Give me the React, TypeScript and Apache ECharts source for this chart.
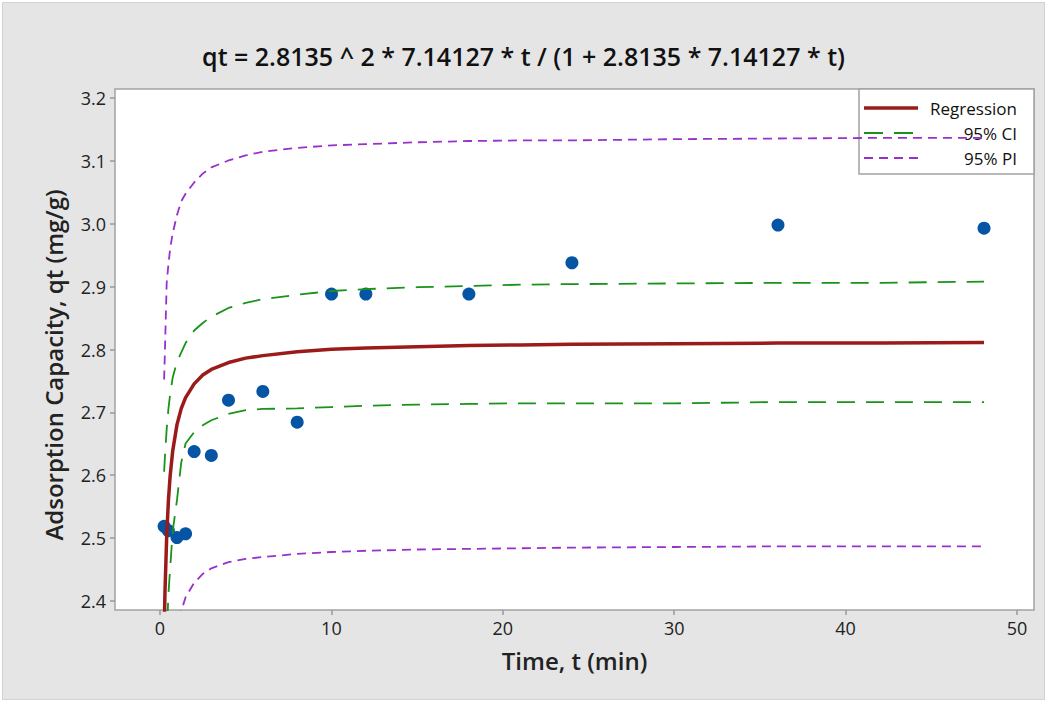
import React, { useEffect, useRef } from "react";
import * as echarts from "echarts";

// Sample times (min) for the fitted curves
const tValues = [0.25, 0.3, 0.4, 0.5, 0.6, 0.75, 1, 1.25, 1.5, 2, 2.5, 3, 4, 5, 6, 8, 10, 12, 15, 18, 21, 24, 30, 36, 42, 48];
const regression = [2.346, 2.413, 2.502, 2.559, 2.598, 2.638, 2.68, 2.706, 2.723, 2.745, 2.759, 2.768, 2.779, 2.786, 2.79, 2.796, 2.8, 2.802, 2.804, 2.806, 2.807, 2.808, 2.809, 2.81, 2.81, 2.811];
const ciUpper = [2.605, 2.63, 2.673, 2.705, 2.728, 2.755, 2.78, 2.795, 2.81, 2.83, 2.842, 2.852, 2.866, 2.874, 2.88, 2.887, 2.893, 2.896, 2.899, 2.901, 2.903, 2.904, 2.905, 2.906, 2.906, 2.908];
const ciLower = [2.09, 2.18, 2.34, 2.41, 2.45, 2.51, 2.56, 2.62, 2.65, 2.668, 2.679, 2.687, 2.697, 2.703, 2.705, 2.706, 2.708, 2.71, 2.712, 2.713, 2.714, 2.714, 2.714, 2.716, 2.716, 2.716];
const piUpper = [2.752, 2.8, 2.906, 2.935, 2.96, 2.985, 3.014, 3.036, 3.048, 3.066, 3.08, 3.09, 3.101, 3.109, 3.115, 3.121, 3.125, 3.127, 3.13, 3.132, 3.133, 3.133, 3.135, 3.136, 3.137, 3.137];
const piLower = [1.94, 2.03, 2.12, 2.18, 2.23, 2.29, 2.348, 2.383, 2.405, 2.428, 2.442, 2.451, 2.461, 2.466, 2.469, 2.474, 2.477, 2.479, 2.481, 2.482, 2.483, 2.484, 2.485, 2.486, 2.486, 2.486];

// Observed data
const obsTime = [0.25, 0.5, 1, 1.5, 2, 3, 4, 6, 8, 10, 12, 18, 24, 36, 48];
const obsQt = [2.518, 2.511, 2.5, 2.506, 2.637, 2.631, 2.719, 2.733, 2.684, 2.888, 2.888, 2.888, 2.938, 2.998, 2.993];

const titleText = "qt = 2.8135 ^ 2 * 7.14127 * t / (1 + 2.8135 * 7.14127 * t)";
const xName = "Time, t (min)";
const yName = "Adsorption Capacity, qt (mg/g)";
const legendNames = ["Regression", "95% CI", "95% PI"];

const FONT = "'Open Sans', 'Noto Sans', sans-serif";
const RED = "#9b1b1b";
const GREEN = "#1a931a";
const PURPLE = "#9a30cc";
const BLUE = "#0655a5";
const FRAME = "#a3a3a3";

const pair = (ys: number[]) => tValues.map((t, i) => [t, ys[i]]);

export default function App() {
  const ref = useRef<HTMLDivElement>(null);
  useEffect(() => {
    if (!ref.current) return;
    const chart = echarts.init(ref.current, undefined, { renderer: "svg" });
    const tickStyle = { color: "#222", fontSize: 18, fontFamily: FONT };
    chart.setOption({
      animation: false,
      backgroundColor: "transparent",
      title: {
        text: titleText,
        left: "center",
        top: 38,
        textStyle: { fontFamily: FONT, fontSize: 25, fontWeight: 600, color: "#111" },
      },
      grid: [
        { left: 115, right: 13, top: 89, bottom: 92, show: true, backgroundColor: "#fff", borderColor: FRAME, borderWidth: 1.5 },
        { left: 160, right: 30, top: 98, bottom: 101, show: false },
      ],
      xAxis: [
        {
          type: "value", gridIndex: 0, min: -2.61, max: 50.91,
          axisLine: { show: false }, axisTick: { show: false }, axisLabel: { show: false }, splitLine: { show: false },
          name: xName, nameLocation: "middle", nameGap: 38,
          nameTextStyle: { fontFamily: FONT, fontSize: 24, fontWeight: 600, color: "#222" },
        },
        {
          type: "value", gridIndex: 1, min: 0, max: 50, interval: 10, offset: 9,
          axisLine: { show: false, onZero: false }, splitLine: { show: false },
          axisTick: { show: true, length: 5, lineStyle: { color: "#999", width: 1.5 } },
          axisLabel: { ...tickStyle, margin: 9 },
        },
      ],
      yAxis: [
        {
          type: "value", gridIndex: 0, min: 2.3846, max: 3.2149,
          axisLine: { show: false }, axisTick: { show: false }, axisLabel: { show: false }, splitLine: { show: false },
        },
        {
          type: "value", gridIndex: 1, min: 2.4, max: 3.2, interval: 0.1, offset: 45,
          axisLine: { show: false, onZero: false }, splitLine: { show: false },
          axisTick: { show: true, length: 5, lineStyle: { color: "#999", width: 1.5 } },
          axisLabel: { ...tickStyle, margin: 9, formatter: (v: number) => v.toFixed(1) },
        },
      ],
      series: [
        { name: "PI upper", type: "line", xAxisIndex: 0, yAxisIndex: 0, data: pair(piUpper), showSymbol: false, symbol: "none", lineStyle: { color: PURPLE, width: 1.8, type: [9, 6] } },
        { name: "PI lower", type: "line", xAxisIndex: 0, yAxisIndex: 0, data: pair(piLower), showSymbol: false, symbol: "none", lineStyle: { color: PURPLE, width: 1.8, type: [9, 6] } },
        { name: "CI upper", type: "line", xAxisIndex: 0, yAxisIndex: 0, data: pair(ciUpper), showSymbol: false, symbol: "none", lineStyle: { color: GREEN, width: 1.8, type: [18, 11] } },
        { name: "CI lower", type: "line", xAxisIndex: 0, yAxisIndex: 0, data: pair(ciLower), showSymbol: false, symbol: "none", lineStyle: { color: GREEN, width: 1.8, type: [18, 11] } },
        { name: "Regression", type: "line", xAxisIndex: 0, yAxisIndex: 0, data: pair(regression), showSymbol: false, symbol: "none", lineStyle: { color: RED, width: 3.5 } },
        { name: "Observed", type: "scatter", xAxisIndex: 0, yAxisIndex: 0, data: obsTime.map((t, i) => [t, obsQt[i]]), symbolSize: 13, itemStyle: { color: BLUE, opacity: 1 } },
      ],
      graphic: [
        {
          type: "text",
          x: 53, y: 365, rotation: Math.PI / 2,
          style: { text: yName, textAlign: "center", textVerticalAlign: "middle", fontFamily: FONT, fontSize: 24, fontWeight: 600, fill: "#222" },
        },
        {
          type: "group", z: 100,
          children: [
            { type: "rect", shape: { x: 859, y: 89, width: 175, height: 85 }, style: { fill: "#fff", stroke: FRAME, lineWidth: 1.5 } },
            { type: "line", shape: { x1: 864, y1: 108, x2: 918, y2: 108 }, style: { stroke: RED, lineWidth: 3.5 } },
            { type: "line", shape: { x1: 864, y1: 133, x2: 913, y2: 133 }, style: { stroke: GREEN, lineWidth: 1.8, lineDash: [19, 11] } },
            { type: "line", shape: { x1: 864, y1: 158, x2: 918, y2: 158 }, style: { stroke: PURPLE, lineWidth: 1.8, lineDash: [9, 6] } },
            ...legendNames.map((n, i) => ({
              type: "text",
              style: { text: n, x: 1017, y: 108 + i * 25, textAlign: "right", textVerticalAlign: "middle", fontFamily: FONT, fontSize: 17, fill: "#111" },
            })),
          ],
        },
      ],
    });
    return () => chart.dispose();
  }, []);

  return (
    <div style={{ position: "absolute", left: 0, top: 0, width: 1047, height: 702, background: "#fff" }}>
      <div style={{ position: "absolute", left: 2, top: 2, width: 1041, height: 696, background: "#e5e5e5", border: "1px solid #d2d2d2" }} />
      <div ref={ref} style={{ position: "absolute", left: 0, top: 0, width: 1047, height: 702 }} />
    </div>
  );
}
